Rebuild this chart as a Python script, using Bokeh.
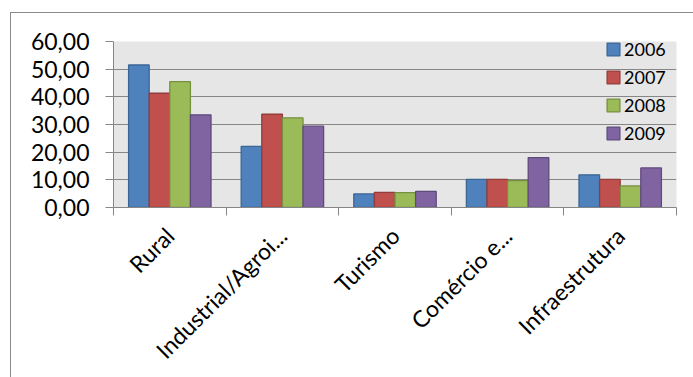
import math
from bokeh.plotting import figure
from bokeh.models import (Range1d, FixedTicker, ColumnDataSource, Legend, LegendItem,
                          CustomJSTickFormatter, InlineStyleSheet)
from bokeh.embed import file_html
from bokeh.resources import INLINE

categories = ["Rural", "Industrial/Agroi...", "Turismo", "Comércio e...", "Infraestrutura"]
years = ["2006", "2007", "2008", "2009"]
v2006 = [51.5, 22.1, 4.9, 10.2, 11.8]
v2007 = [41.3, 33.7, 5.5, 10.2, 10.2]
v2008 = [45.5, 32.4, 5.4, 9.7, 7.8]
v2009 = [33.5, 29.4, 5.8, 18.0, 14.3]
y_ticks = [0, 10, 20, 30, 40, 50, 60]

fills = ["#4f81bd", "#c0504d", "#9bbb59", "#8064a2"]
lines = ["#3a6694", "#933d3a", "#76903f", "#5f4a7c"]
FONT = "Lato"
GRAY = "#868686"

border_css = InlineStyleSheet(css="""
:host { position: relative; }
:host::after {
  content: "";
  position: absolute;
  left: 10px; top: 12px; right: 0px; bottom: 0px;
  border-left: 1.5px solid #8a8a8a;
  border-top: 1.5px solid #8a8a8a;
  pointer-events: none;
  z-index: 100;
}
""")

p = figure(width=693, height=377, output_backend="svg", toolbar_location=None,
           x_range=Range1d(0, len(categories)), y_range=Range1d(0, 60),
           min_border_left=113, min_border_top=41, min_border_right=17,
           min_border_bottom=170)
p.stylesheets = [border_css]
p.background_fill_color = "#e6e6e6"
p.border_fill_color = "white"
p.outline_line_color = None

bar_w = 0.183
offsets = [-0.2745, -0.0915, 0.0915, 0.2745]
series = [v2006, v2007, v2008, v2009]
renderers = []
for k, (vals, off) in enumerate(zip(series, offsets)):
    src = ColumnDataSource(dict(x=[i + 0.5 + off for i in range(len(categories))], top=vals))
    r = p.vbar(x="x", top="top", width=bar_w, bottom=0, source=src,
               fill_color=fills[k], line_color=lines[k], line_width=1.3)
    renderers.append(r)

# grid
p.xgrid.grid_line_color = None
p.ygrid.grid_line_color = GRAY
p.ygrid.grid_line_width = 1
p.ygrid.ticker = FixedTicker(ticks=y_ticks)

# y axis
yax = p.yaxis[0]
yax.ticker = FixedTicker(ticks=y_ticks)
yax.formatter = CustomJSTickFormatter(code="return tick.toFixed(2).replace('.', ',');")
yax.axis_line_color = GRAY
yax.major_tick_line_color = GRAY
yax.major_tick_out = 8
yax.major_tick_in = 0
yax.minor_tick_line_color = None
yax.major_label_text_font = FONT
yax.major_label_text_font_size = "23px"
yax.major_label_text_color = "black"
yax.major_label_standoff = 16

# x axis
xax = p.xaxis[0]
centers = [i + 0.5 for i in range(len(categories))]
xax.ticker = FixedTicker(ticks=centers, minor_ticks=list(range(len(categories) + 1)))
xax.major_label_overrides = {c: lab for c, lab in zip(centers, categories)}
xax.axis_line_color = GRAY
xax.major_tick_line_color = None
xax.major_tick_out = 0
xax.major_tick_in = 0
xax.minor_tick_line_color = GRAY
xax.minor_tick_out = 8
xax.minor_tick_in = 0
xax.major_label_orientation = math.pi / 4
xax.major_label_text_font = FONT
xax.major_label_text_font_size = "23px"
xax.major_label_text_color = "black"
xax.major_label_standoff = 16

legend = Legend(items=[LegendItem(label=y, renderers=[r]) for y, r in zip(years, renderers)],
                location=(492, 63), orientation="vertical")
legend.background_fill_alpha = 0
legend.border_line_alpha = 0
legend.padding = 0
legend.margin = 0
legend.spacing = 6
legend.glyph_width = 16
legend.glyph_height = 16
legend.label_height = 16
legend.label_standoff = 3
legend.label_text_font = FONT
legend.label_text_font_size = "18px"
legend.label_text_color = "black"
p.add_layout(legend, "center")

open("out.html", "w").write(file_html(p, INLINE))
